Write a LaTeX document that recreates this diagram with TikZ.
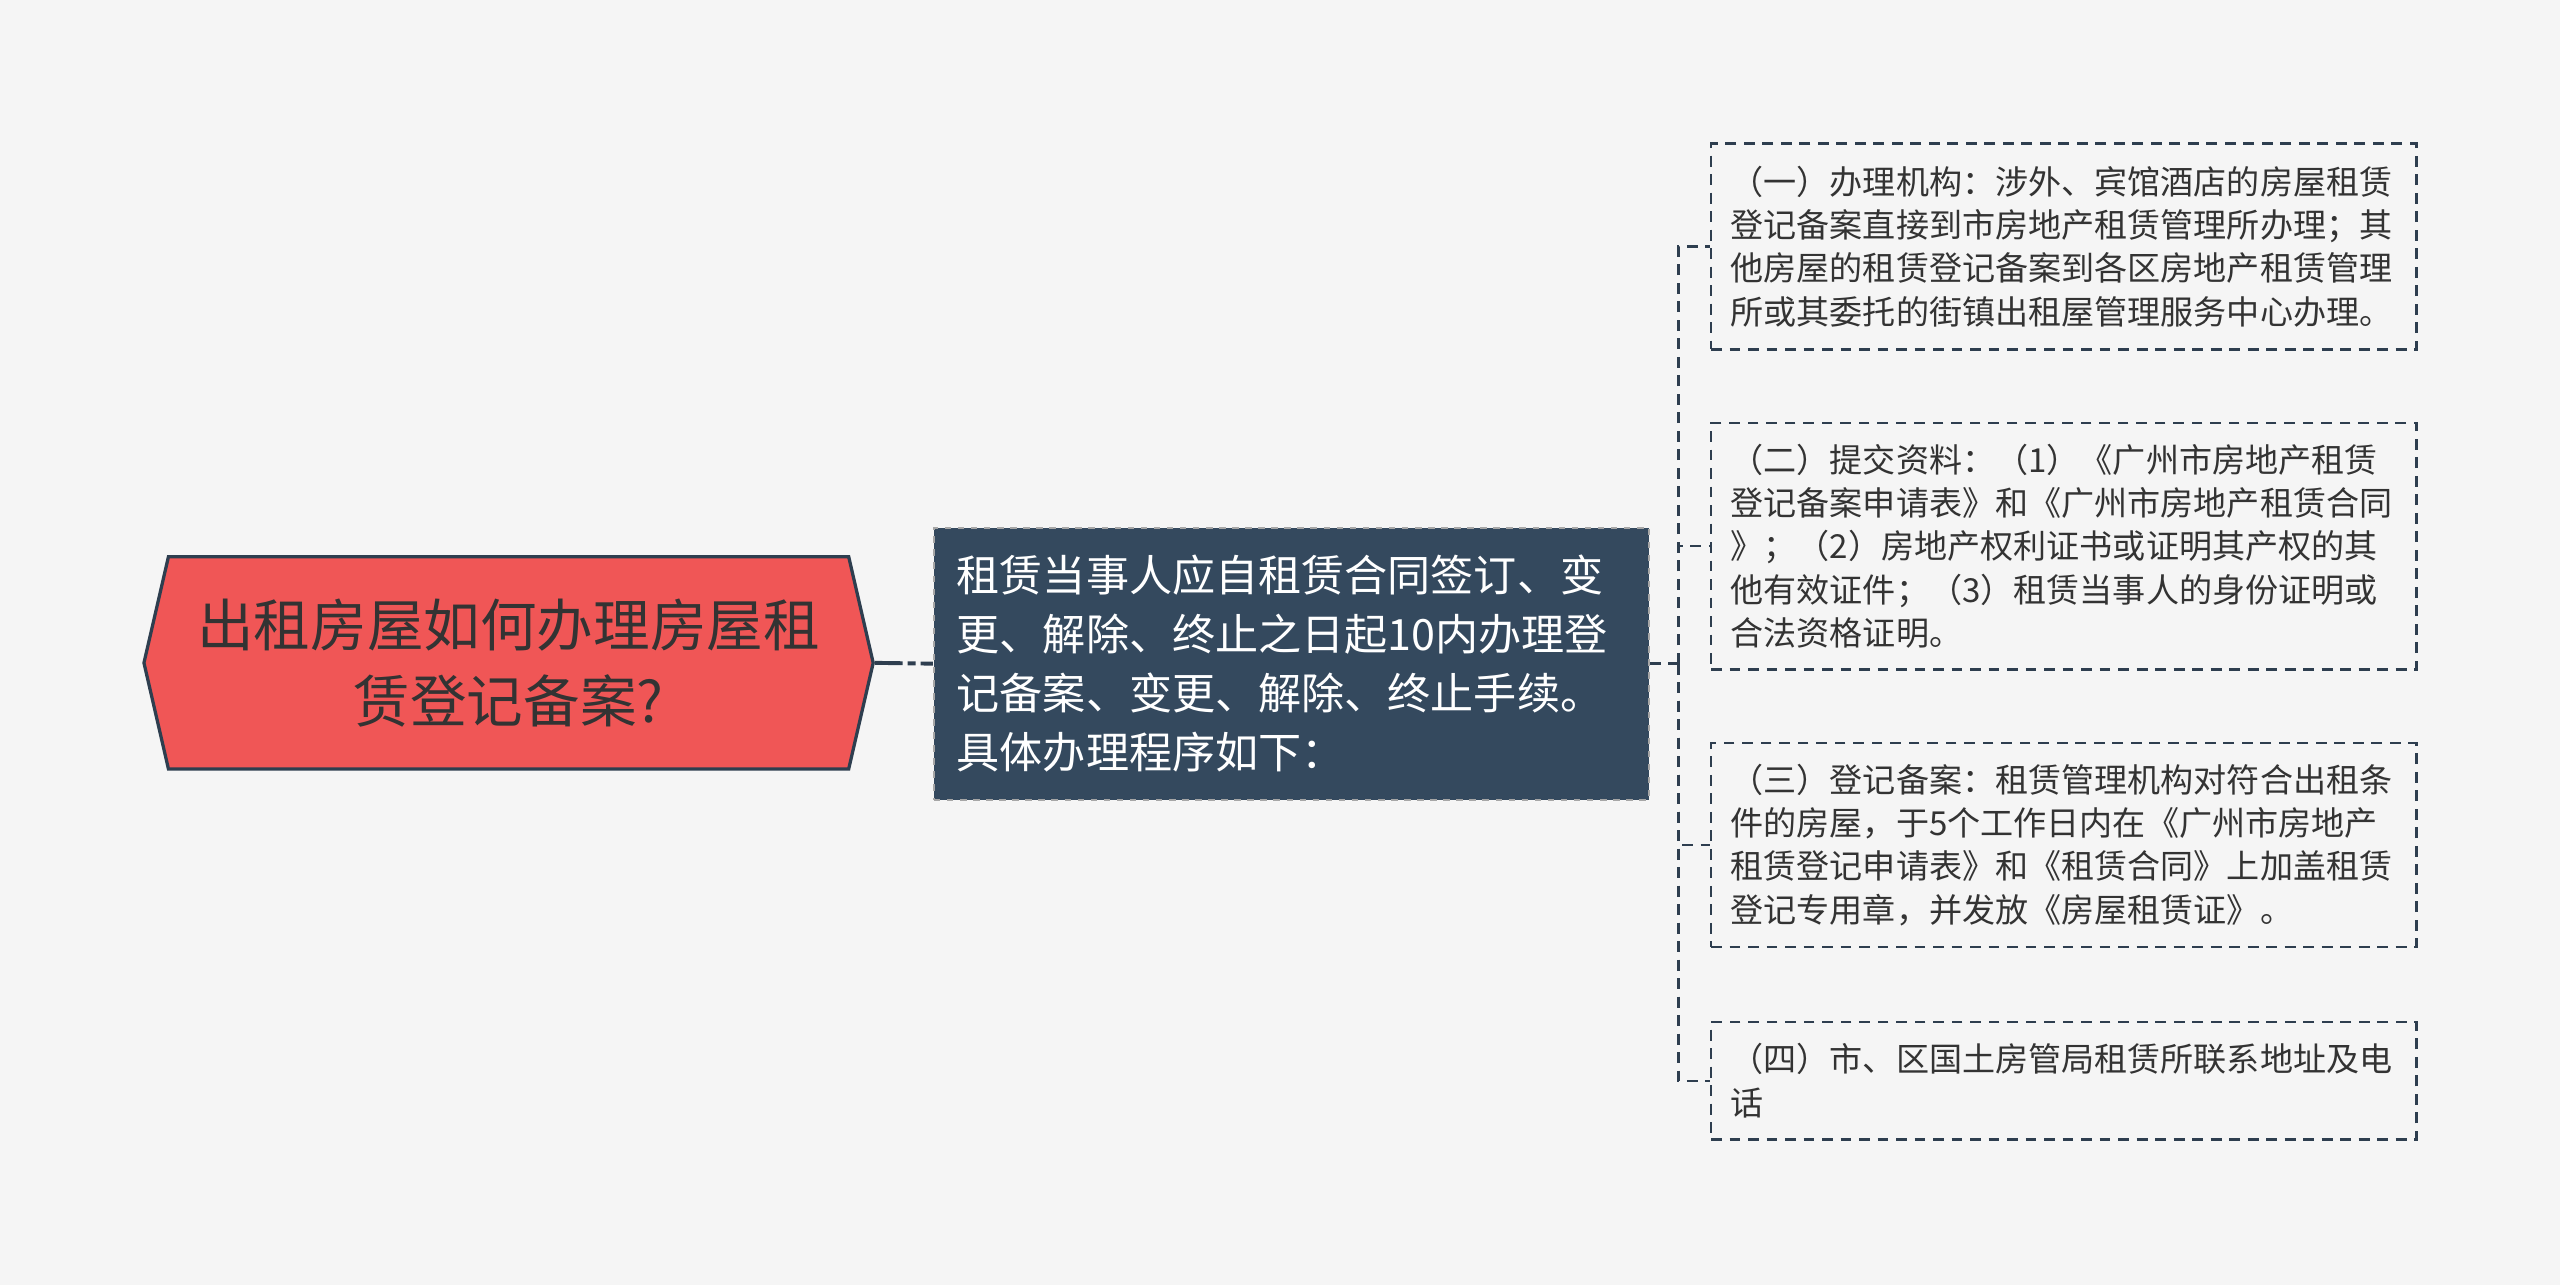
\documentclass[tikz,border=0pt]{standalone}
\usepackage{fontspec}
\setmainfont{Noto Sans CJK SC}
\usetikzlibrary{shapes.symbols}
\definecolor{bgcol}{HTML}{F5F5F5}
\definecolor{rootred}{HTML}{F05656}
\definecolor{navy}{HTML}{2E3E4F}
\definecolor{slate}{HTML}{34495E}
\definecolor{txt}{HTML}{333333}
\tikzset{
  rootbox/.style={shape=signal, signal to=west and east, signal pointer angle=154,
    fill=rootred, draw=navy, line width=1.5pt, minimum width=335pt, minimum height=97.5pt,
    inner sep=0pt, align=center, text=txt, font=\fontsize{26}{35}\selectfont},
  midbox/.style={rectangle, fill=slate, draw=gray!70, dashed, line width=0.9pt,
    minimum width=328.5pt, minimum height=125pt, inner xsep=10.5pt, text width=307.5pt,
    align=left, text=white, font=\fontsize{19.8}{27}\selectfont},
  leafbox/.style={rectangle, draw=navy, line width=1.1pt, dash pattern=on 5pt off 3.5pt,
    minimum width=324pt, inner xsep=9pt, text width=306pt,
    align=left, text=txt, font=\fontsize{15.2}{19.9}\selectfont},
  rootlink/.style={draw=navy, line width=1.8pt, dash pattern=on 12.75pt off 2.25pt on 3.75pt off 2.25pt},
  link/.style={draw=navy, line width=1.1pt, dash pattern=on 5pt off 3.5pt}
}
\begin{document}
\begin{tikzpicture}[x=0.75pt,y=-0.75pt]
  \fill[bgcol] (0,0) rectangle (1568,787);
  \node[rootbox] (root) at (311.5,406) {出租房屋如何办理房屋租\\赁登记备案?};
  \node[midbox] (mid) at (791,406.5) {租赁当事人应自租赁合同签订、变\\更、解除、终止之日起10内办理登\\记备案、变更、解除、终止手续。\\具体办理程序如下：};
  % leaves
  \node[leafbox, minimum height=94.5pt] (org) at (1264,151) {（一）办理机构：涉外、宾馆酒店的房屋租赁\\登记备案直接到市房地产租赁管理所办理；其\\他房屋的租赁登记备案到各区房地产租赁管理\\所或其委托的街镇出租屋管理服务中心办理。};
  \node[leafbox, minimum height=113.25pt] (docs) at (1264,334.5) {（二）提交资料：（1）《广州市房地产租赁\\登记备案申请表》和《广州市房地产租赁合同\\》；（2）房地产权利证书或证明其产权的其\\他有效证件；（3）租赁当事人的身份证明或\\合法资格证明。};
  \node[leafbox, minimum height=93.75pt] (reg) at (1264,517.5) {（三）登记备案：租赁管理机构对符合出租条\\件的房屋，于5个工作日内在《广州市房地产\\租赁登记申请表》和《租赁合同》上加盖租赁\\登记专用章，并发放《房屋租赁证》。};
  \node[leafbox, minimum height=54pt] (addr) at (1264,662) {（四）市、区国土房管局租赁所联系地址及电\\话};
  \coordinate (trunk) at (1028,406.5);
  \draw[rootlink] (root.east) -- (mid.west);
  \draw[link] (mid.east) -- (trunk);
  \foreach \leaf in {org,docs,reg,addr}
    \draw[link] (trunk) |- (\leaf.west);
\end{tikzpicture}
\end{document}
